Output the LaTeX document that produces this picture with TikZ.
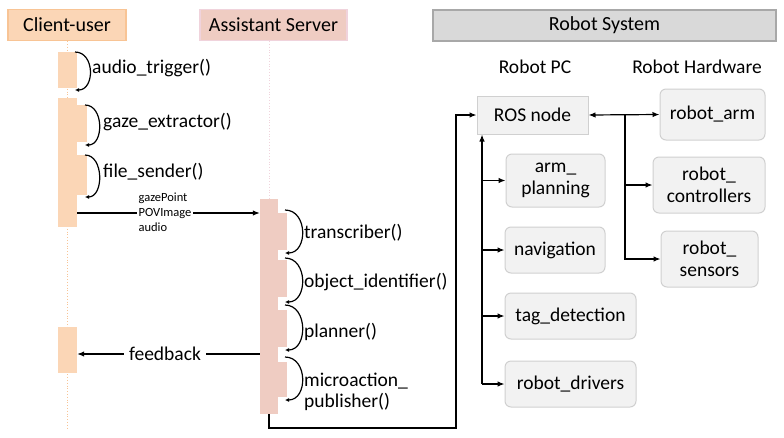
\documentclass[tikz,border=0pt]{standalone}
\usepackage{fontspec}
\setmainfont{Carlito}
\usetikzlibrary{arrows.meta}
\definecolor{cfill}{HTML}{FBD6B6}
\definecolor{cedge}{HTML}{F8C495}
\definecolor{sfill}{HTML}{EFCCC2}
\definecolor{sedge}{HTML}{F0D3DC}
\definecolor{gfill}{HTML}{D9D9D9}
\definecolor{gedge}{HTML}{A8A8A8}
\definecolor{nfill}{HTML}{F2F2F2}
\definecolor{nedge}{HTML}{D0D0D0}
\begin{document}
\begin{tikzpicture}[x=1pt,y=-1pt,
  font=\fontsize{19.5}{21.5}\selectfont,
  hdr/.style={draw=#1, line width=1.2pt, minimum height=31pt, inner sep=0pt, font=\fontsize{20}{22}\selectfont},
  act/.style={fill=#1, draw=none, inner sep=0pt},
  rnode/.style={draw=nedge, fill=nfill, line width=1pt, rounded corners=6pt, align=center, inner sep=0pt},
  conn/.style={line width=1.2pt, -{Latex[length=7pt,width=5.5pt]}},
  selfcall/.style={line width=1.2pt, -{Latex[length=4pt,width=4pt]}},
  lbl/.style={anchor=west, inner sep=0pt},
  life/.style={dotted, line width=0.8pt}
]
\useasboundingbox (0,0) rectangle (784,437);

% headers
\node[hdr=cedge, fill=cfill, minimum width=118pt] (hc) at (67,25) {Client-user};
\node[hdr=sedge, fill=sfill, minimum width=147pt] (hs) at (273.5,25) {Assistant Server};
\node[hdr=gedge, fill=gfill, minimum width=343pt] (hr) at (604.5,25.5) {Robot System};

% lifelines
\coordinate (cl) at (67,430);
\draw[life, draw=cedge] (hc.south) -- (cl);
\draw[life, draw=sedge] (hs.south -| 269,0) -- (269,199);

% client activations
\node[act=cfill, minimum width=19pt, minimum height=36pt] (ca1) at (67.5,70) {};
\node[act=cfill, minimum width=19pt, minimum height=129pt] (ca2) at (67.5,162.5) {};
\node[act=cfill, minimum width=10pt, minimum height=37pt] (ca2a) at (82,123.5) {};
\node[act=cfill, minimum width=10pt, minimum height=40pt] (ca2b) at (82,175) {};
\node[act=cfill, minimum width=19pt, minimum height=46pt] (ca3) at (67.5,350) {};

% server activations
\node[act=sfill, minimum width=18pt, minimum height=215pt] (sa) at (269,306.5) {};
\node[act=sfill, minimum width=9pt, minimum height=37pt] (sa1) at (282.5,231.5) {};
\node[act=sfill, minimum width=9pt, minimum height=37pt] (sa2) at (282.5,278.5) {};
\node[act=sfill, minimum width=9pt, minimum height=37pt] (sa3) at (282.5,328.5) {};
\node[act=sfill, minimum width=9pt, minimum height=35pt] (sa4) at (282.5,379.5) {};

% self calls
\draw[selfcall] (75,52) .. controls (95,52) and (95,90) .. (75,90);
\node[lbl] (l1) at (92,68) {audio\_trigger()};
\draw[selfcall] (85,105) .. controls (104,105) and (104,145) .. (85,145);
\node[lbl] (l2) at (103,122) {gaze\_extractor()};
\draw[selfcall] (85,155) .. controls (104,155) and (104,197) .. (85,197);
\node[lbl] (l3) at (103,172) {file\_sender()};

\draw[selfcall] (285,210) .. controls (308,210) and (308,253) .. (285,253);
\node[lbl] (l4) at (304,233) {transcriber()};
\draw[selfcall] (285,258) .. controls (308,258) and (308,302) .. (285,302);
\node[lbl] (l5) at (304,282) {object\_identifier()};
\draw[selfcall] (285,305) .. controls (308,305) and (308,350) .. (285,350);
\node[lbl] (l6) at (304,332) {planner()};
\draw[selfcall] (285,357) .. controls (308,357) and (308,400) .. (285,400);
\node[lbl, align=left] (l7) at (304,392) {microaction\_\\publisher()};

% messages
\draw[conn] (ca2.east |- 0,213) -- (sa.west |- 0,213);
\node[fill=white, align=left, inner sep=2pt, font=\fontsize{12.5}{15}\selectfont] (msg) at (165,212) {gazePoint\\POVImage\\audio};
\draw[conn] (sa.west |- 0,354) -- (ca3.east |- 0,354);
\node[fill=white, inner xsep=5pt, inner ysep=1pt] (fb) at (165,354) {feedback};

% robot section
\node (pc) at (535,67) {Robot PC};
\node (hw) at (697,67) {Robot Hardware};

\node[rnode, rounded corners=0pt, minimum width=111pt, minimum height=38pt] (ros) at (532.5,115) {ROS node};
\node[rnode, minimum width=105pt, minimum height=51pt] (arm) at (712.5,114.5) {robot\_arm};
\node[rnode, minimum width=112pt, minimum height=56pt] (ctrl) at (709,185) {robot\_\\controllers};
\node[rnode, minimum width=97pt, minimum height=56pt] (sens) at (709.5,259) {robot\_\\sensors};
\node[rnode, minimum width=99pt, minimum height=53pt] (plan) at (555.5,180.5) {arm\_\\planning};
\node[rnode, minimum width=100pt, minimum height=46pt] (nav) at (555,250) {navigation};
\node[rnode, minimum width=131pt, minimum height=46pt] (tag) at (570.5,316) {tag\_detection};
\node[rnode, minimum width=131pt, minimum height=46pt] (drv) at (570.5,384) {robot\_drivers};

% server -> ROS node
\coordinate (c1) at (456,428);
\draw[conn] (sa.south) |- (c1) |- (ros.west);

% left trunk
\coordinate (tb) at (482,384);
\draw[conn] (tb) -- (tb |- ros.south);
\draw[conn] (tb |- plan.west) -- (plan.west);
\draw[conn] (tb |- nav.west) -- (nav.west);
\draw[conn] (tb |- tag.west) -- (tag.west);
\draw[conn] (tb) -- (drv.west);

% right branch
\coordinate (rj) at (625,115);
\draw[conn, {Latex[length=7pt,width=5.5pt]}-{Latex[length=7pt,width=5.5pt]}] (ros.east) -- (arm.west);
\draw[conn] (rj) |- (sens.west);
\draw[conn] (rj |- ctrl.west) -- (ctrl.west);
\end{tikzpicture}
\end{document}
